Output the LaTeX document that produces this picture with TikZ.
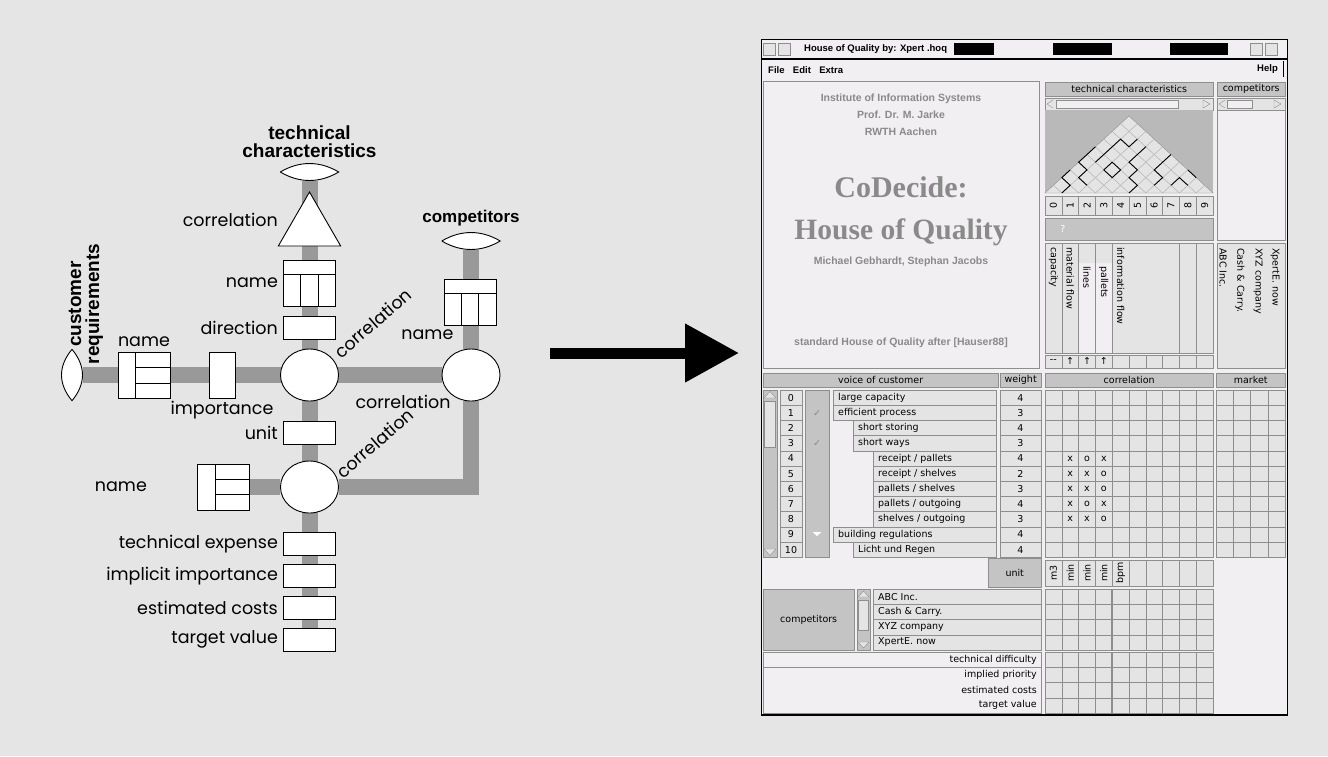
\documentclass[tikz,border=0pt]{standalone}
\usepackage{fontspec}
\setmainfont{Liberation Sans}
\newfontfamily\geofont{Poppins}
\newfontfamily\symfont{DejaVu Sans}
\newfontfamily\scrfont{DejaVu Sans}
\newfontfamily\logofont{Liberation Serif}
\usetikzlibrary{positioning,arrows.meta,shapes.geometric,calc,backgrounds}

\definecolor{bgc}{HTML}{E5E5E5}
\definecolor{barc}{HTML}{999999}
\definecolor{panelc}{HTML}{F1EFF1}
\definecolor{cellc}{HTML}{E4E4E4}
\definecolor{hdrc}{HTML}{C4C4C4}
\definecolor{edgec}{HTML}{8E8E8E}
\definecolor{roofc}{HTML}{B9B9B9}
\definecolor{logoc}{HTML}{8A8A8A}

\begin{document}
\begin{tikzpicture}[x=1pt,y=-1pt,
	node distance=5pt,
	every node/.style={inner sep=0pt},
	lbl/.style={font=\geofont\fontsize{17.5}{18}\selectfont},
	ttl/.style={font=\bfseries\fontsize{19}{18}\selectfont, align=center},
	box/.style={draw, fill=white, line width=0.9pt, minimum width=52, minimum height=23},
	lens/.style={ellipse, minimum width=58, minimum height=17},
	circ/.style={ellipse, draw, fill=white, line width=0.9pt, minimum width=58, minimum height=52},
	bar/.style={draw=barc, line width=16pt},
	cols/.style={box, minimum height=46, path picture={
			\path (path picture bounding box.north west) coordinate (pp);
			\draw[line width=0.9pt] ([yshift=-14pt]pp) -- +(60pt,0)
			([shift={(17.3pt,-14pt)}]pp) -- +(0,-40pt)
			([shift={(34.7pt,-14pt)}]pp) -- +(0,-40pt);}},
	rows/.style={box, minimum height=46, path picture={
			\path (path picture bounding box.north west) coordinate (pp);
			\draw[line width=0.9pt] ([xshift=17.5pt]pp) -- +(0,-50pt)
			([shift={(17.5pt,-15.3pt)}]pp) -- +(40pt,0)
			([shift={(17.5pt,-30.7pt)}]pp) -- +(40pt,0);}},
	scr/.style={font=\scrfont\fontsize{9.5}{10}\selectfont},
	menu/.style={font=\bfseries\fontsize{9.5}{10}\selectfont},
	logot/.style={text=logoc, font=\bfseries\fontsize{10.5}{11}\selectfont},
	hdr/.style={scr, draw=edgec, fill=hdrc},
	cell/.style={draw=edgec, fill=cellc, line width=0.5pt},
	pane/.style={draw=edgec, fill=panelc, line width=0.8pt}]

	\useasboundingbox (0,0) rectangle (1328,756);

	\node[lens] (tcl) at (309.5,172) {};
	\node[ttl, above=5pt of tcl] (tct) {technical\\characteristics};
	\node[regular polygon, regular polygon sides=3, draw, fill=white, line width=0.9pt, minimum size=72] (tri) at (309.5,228) {};
	\node[lbl, anchor=east] (tril) at (278,220) {correlation};
	\node[cols] (tnm) at (309.5,283) {};
	\node[lbl, left=of tnm] (tnml) {name};
	\node[box] (dir) at (309.5,327.5) {};
	\node[lbl, left=of dir] (dirl) {direction};
	\node[circ] (c1) at (309.5,375) {};
	\node[box] (unit) at (309.5,432.5) {};
	\node[lbl, left=of unit] (unitl) {unit};
	\node[circ] (c3) at (309.5,487) {};
	\node[box] (te) at (309.5,544) {};
	\node[box, below=8pt of te] (ii) {};
	\node[box, below=8pt of ii] (ec) {};
	\node[box, below=8pt of ec] (tv) {};
	\node[lbl, left=of te] (tel) {technical expense};
	\node[lbl, left=of ii] (iil) {implicit importance};
	\node[lbl, left=of ec] (ecl) {estimated costs};
	\node[lbl, left=of tv] (tvl) {target value};

	\node[ellipse, minimum width=21, minimum height=51] (cl) at (72,375) {};
	\node[ttl, rotate=90] (clt) at (86,304) {customer\\requirements};
	\node[rows] (cnm) at (144,375.5) {};
	\node[lbl, above=5pt of cnm] (cnml) {name};
	\node[box, minimum width=26, minimum height=46] (imp) at (222,375.5) {};
	\node[lbl, below=2pt of imp] (impl) {importance};
	\node[circ] (c2) at (471,375) {};
	\node[cols] (cpn) at (470,302) {};
	\node[lbl, anchor=north east] (cpnl) at ([shift={(10,4)}]cpn.south west) {name};
	\node[lens] (cpl) at (471,241) {};
	\node[ttl, font=\bfseries\fontsize{17}{18}\selectfont, above=6pt of cpl] (cpt) {competitors};
	\node[rows] (rnm) at (223.5,487) {};
	\node[lbl, left=50pt of rnm] (rnml) {name};

	\node[lbl, rotate=41] (c1l) at (373,323) {correlation};
	\node[lbl] (c2l) at (403,402) {correlation};
	\node[lbl, rotate=41] (c3l) at (375,443) {correlation};

	\draw[fill=white, line width=0.9pt] (tcl.west) .. controls +(19,-11.3) and +(-19,-11.3) .. (tcl.east) .. controls +(-19,11.3) and +(19,11.3) .. (tcl.west);
	\draw[fill=white, line width=0.9pt] (cpl.west) .. controls +(19,-11.3) and +(-19,-11.3) .. (cpl.east) .. controls +(-19,11.3) and +(19,11.3) .. (cpl.west);
	\draw[fill=white, line width=0.9pt] (cl.north) .. controls +(14,17) and +(14,-17) .. (cl.south) .. controls +(-14,-17) and +(-14,17) .. (cl.north);

	\begin{pgfonlayer}{background}
		\fill[bgc] (0,0) rectangle (1328,756);
		\draw[bar] (tcl) -- (tv);
		\draw[bar] (cl) -- (c2);
		\draw[bar] (cpl) -- (c2);
		\draw[bar] (c2) |- (c3);
		\draw[bar] (rnm) -- (c3);
	\end{pgfonlayer}

	\coordinate (arrs) at (550,353);
	\coordinate (arre) at (739,353);
	\draw[line width=11pt, -{Triangle[length=54pt, width=56pt]}] (arrs) -- (arre);

	\node[draw, line width=1pt, fill=panelc, anchor=north west, minimum width=526, minimum height=676] (win) at (761,39) {};
	\draw[line width=1.6pt] (761,59) -- (1287,59);
	\node[cell, minimum size=12] (wb1) at (769,49) {};
	\node[cell, minimum size=12, right=3pt of wb1] (wb2) {};
	\node[cell, minimum size=12] (wb3) at (1256,49) {};
	\node[cell, minimum size=12, right=3pt of wb3] (wb4) {};
	\node[font=\bfseries\fontsize{9.5}{10}\selectfont, anchor=west] (wtitle) at (804,49) {House of Quality by: Xpert .hoq};
	\fill (954,43) rectangle (994,55);
	\fill (1053,43) rectangle (1112,55);
	\fill (1170,43) rectangle (1228,55);

	\node[menu, anchor=west] (mfile) at (768,70) {File};
	\node[menu, right=8pt of mfile] (medit) {Edit};
	\node[menu, right=8pt of medit] (mextra) {Extra};
	\node[menu, anchor=east] (mhelp) at (1278,69) {Help};
	\draw (1283,61) -- (1283,77);

	\node[pane, anchor=north west, minimum width=276, minimum height=287] (logo) at (763,81) {};
	\node[logot] (l1) at (901,99) {Institute of Information Systems};
	\node[logot] (l2) at (901,115) {Prof. Dr. M. Jarke};
	\node[logot] (l3) at (901,132) {RWTH Aachen};
	\node[text=logoc, font=\logofont\bfseries\fontsize{30}{32}\selectfont] (l4) at (901,187) {CoDecide:};
	\node[text=logoc, font=\logofont\bfseries\fontsize{29.5}{30}\selectfont] (l5) at (901,232) {House of Quality};
	\node[logot] (l6) at (901,262) {Michael Gebhardt, Stephan Jacobs};
	\node[logot] (l7) at (901,343) {standard House of Quality after [Hauser88]};

	\node[hdr, anchor=north west, minimum width=168, minimum height=14] (techh) at (1045,82) {technical characteristics};
	\node[hdr, anchor=north west, minimum width=68, minimum height=14] (comph) at (1217,82) {competitors};
	\node[cell, anchor=north west, minimum width=168, minimum height=12] (tscr) at (1045,98) {};
	\draw[fill=panelc, draw=edgec] (1056,100) rectangle (1178,108);
	\draw[edgec] (1053,100) -- (1047,104) -- (1053,108) (1203,100) -- (1210,104) -- (1203,108) -- cycle;
	\node[cell, anchor=north west, minimum width=68, minimum height=12] (cscr) at (1217,98) {};
	\draw[fill=panelc, draw=edgec] (1227,100) rectangle (1252,108);
	\draw[edgec] (1225,100) -- (1219,104) -- (1225,108) (1274,100) -- (1281,104) -- (1274,108) -- cycle;

	\fill[roofc] (1045,110) rectangle (1213,193);
	\begin{scope}[shift={(1045,193)}, x=8.4pt, y=7.7pt]
		\draw[fill=cellc, draw=edgec] (0,0) -- (10,10) -- (20,0) -- cycle;
		\foreach \k in {1,...,9}
		\draw[draw=roofc, line width=0.6pt] (2*\k,0) -- ({10+\k},{10-\k}) (2*\k,0) -- (\k,\k);
		\draw[line width=0.9pt] (2,0) -- (3,1) -- (2,2) -- (3,3)
		(5,1) -- (4,2) -- (5,3) -- (4,4) -- (5,5) -- (6,6)
		(7,3) -- (8,4) -- (9,3) -- (8,2) -- cycle
		(10,0) -- (11,1) -- (10,2) -- (11,3) -- (10,4) -- (11,5) -- (12,6)
		(13,1) -- (14,2) -- (13,3) -- (14,4) -- (15,5)
		(15,1) -- (16,2) -- (17,1)
		(8,6) -- (9,7) -- (10,6) -- (11,7)
		(17,3) -- (18,2)
		(6,4) -- (7,5) -- (8,6);
	\end{scope}

	\foreach \i in {0,...,9} {
		\draw[cell] ({1045+16.8*\i},196) rectangle +(16.8,19);
		\node[scr, rotate=90] (n\i) at ({1053.4+16.8*\i},205.5) {\i};
	}
	\node[draw=edgec, fill=hdrc, anchor=north west, minimum width=168, minimum height=22] (qrow) at (1045,218) {};
	\node[scr, text=white] (qm) at (1063,229) {?};
	\draw[pane] (1217,110) rectangle (1285,240);

	\draw[cell] (1045,243) rectangle (1213,353);
	\fill[panelc] (1079,263) rectangle (1112,352.5);
	\foreach \x in {1061.8,1078.6,1095.4,1112.2,1179.4,1196.2}
	\draw[edgec] (\x,243) -- (\x,353);
	\node[scr, rotate=-90, anchor=west] (tc0) at (1053.4,247) {capacity};
	\node[scr, rotate=-90, anchor=west] (tc1) at (1070.2,247) {material flow};
	\node[scr, rotate=-90, anchor=west] (tc2) at (1087,266) {lines};
	\node[scr, rotate=-90, anchor=west] (tc3) at (1103.8,266) {pallets};
	\node[scr, rotate=-90, anchor=west] (tc4) at (1120.6,247) {information flow};
	\foreach \i in {0,...,9}
	\draw[cell] ({1045+16.8*\i},355) rectangle +(16.8,13);
	\node[scr] (d0) at (1053.4,361.5) {--};
	\foreach \i in {1,2,3}
	\node[scr] (d\i) at ({1053.4+16.8*\i},361.5) {↑};

	\draw[cell] (1217,243) rectangle (1285,368);
	\node[scr, rotate=-90, anchor=west] (cp0) at (1275,248) {XpertE. now};
	\node[scr, rotate=-90, anchor=west] (cp1) at (1258,248) {XYZ company};
	\node[scr, rotate=-90, anchor=west] (cp2) at (1240,248) {Cash \& Carry.};
	\node[scr, rotate=-90, anchor=west] (cp3) at (1223,248) {ABC Inc.};

	\node[hdr, anchor=north west, minimum width=235, minimum height=14] (voice) at (763,373) {voice of customer};
	\node[hdr, anchor=north west, minimum width=41, minimum height=14] (weight) at (1000,373) {weight};
	\node[hdr, anchor=north west, minimum width=168, minimum height=14] (corrh) at (1045,373) {correlation};
	\node[hdr, anchor=north west, minimum width=69, minimum height=14] (markh) at (1216,373) {market};

	\draw[fill=hdrc, draw=edgec] (763,390) rectangle (777,557);
	\draw[fill=cellc, draw=edgec] (764.5,401) rectangle (775.5,447);
	\draw[edgec, fill=cellc] (764,398) -- (770,391.5) -- (776,398) -- cycle (764,549) -- (770,555.5) -- (776,549) -- cycle;
	\draw[fill=hdrc, draw=edgec] (805,390) rectangle (829,557);
	\foreach \r/\lv/\t/\w in {0/0/{large capacity}/4, 1/0/{efficient process}/3, 2/1/{short storing}/4,
		3/1/{short ways}/3, 4/2/{receipt / pallets}/4, 5/2/{receipt / shelves}/2, 6/2/{pallets / shelves}/3,
		7/2/{pallets / outgoing}/4, 8/2/{shelves / outgoing}/3, 9/0/{building regulations}/4, 10/1/{Licht und Regen}/4} {
		\pgfmathsetmacro\xs{833+20*\lv}
		\pgfmathsetmacro\ya{390+15.2*\r}
		\draw[cell] (780,\ya) rectangle (802,{\ya+15.2});
		\node[scr] (ri\r) at (791,{\ya+7.6}) {\r};
		\draw[cell] (\xs,\ya) rectangle (996,{\ya+15.2});
		\node[scr, anchor=west] (rt\r) at ({\xs+5},{\ya+7.6}) {\t};
		\draw[cell] (1000,\ya) rectangle (1041,{\ya+15.2});
		\node[scr] (rw\r) at (1020.5,{\ya+7.6}) {\w};
	}
	\node[scr, text=logoc] (ck1) at (817,413) {\symfont ✓};
	\node[scr, text=logoc] (ck3) at (817,443.4) {\symfont ✓};
	\fill[white] (812.5,532) -- (821.5,532) -- (817,536) -- cycle;

	\foreach \i in {0,...,9}
	\foreach \j in {0,...,10}
	\draw[cell] ({1045+16.8*\i},{390+15.2*\j}) rectangle +(16.8,15.2);
	\foreach \i in {0,...,3}
	\foreach \j in {0,...,10}
	\draw[cell] ({1216+17.25*\i},{390+15.2*\j}) rectangle +(17.25,15.2);
	\foreach \i/\j/\m in {1/4/x,2/4/o,3/4/x,1/5/x,2/5/x,3/5/o,1/6/x,2/6/x,3/6/o,
		1/7/x,2/7/o,3/7/x,1/8/x,2/8/x,3/8/o}
	\node[scr] (m\i\j) at ({1053.4+16.8*\i},{397.6+15.2*\j}) {\m};

	\node[hdr, anchor=north west, minimum width=53, minimum height=29] (unith) at (988,558) {unit};
	\foreach \i in {0,...,9}
	\draw[cell] ({1045+16.8*\i},560) rectangle +(16.8,26);
	\foreach \i/\u in {0/m3,1/min,2/min,3/min,4/bpm}
	\node[scr, rotate=90] (u\i) at ({1053.4+16.8*\i},573) {\u};

	\node[hdr, anchor=north west, minimum width=91, minimum height=61] (comp) at (763,589) {competitors};
	\draw[fill=hdrc, draw=edgec] (857,589) rectangle (870,650);
	\draw[fill=cellc, draw=edgec] (858.5,600) rectangle (868.5,630);
	\draw[edgec, fill=cellc] (858,597) -- (863.5,591) -- (869,597) -- cycle (858,642) -- (863.5,648) -- (869,642) -- cycle;
	\foreach \j/\n in {0/ABC Inc.,1/Cash \& Carry.,2/XYZ company,3/XpertE. now} {
		\draw[cell] (873,{589+15.25*\j}) rectangle (1041,{604.25+15.25*\j});
		\node[scr, anchor=west] (cn\j) at (878,{596.6+15.25*\j}) {\n};
	}
	\draw[pane] (763,652) rectangle (1041,713);
	\draw[edgec] (763,667.25) -- (1041,667.25);
	\foreach \j/\n in {0/technical difficulty,1/implied priority,2/estimated costs,3/target value}
	\node[scr, anchor=east] (bt\j) at (1037,{659.6+15.25*\j}) {\n};
	\foreach \y in {589,652} {
		\foreach \i in {0,...,9}
		\foreach \j in {0,...,3}
		\draw[cell] ({1045+16.8*\i},{\y+15.25*\j}) rectangle +(16.8,15.25);
		\draw[edgec, line width=1.5pt] (1112.2,\y) -- (1112.2,{\y+61});
	}
	\draw[line width=1.2pt] (761,715) -- (1287,715);

\end{tikzpicture}
\end{document}
